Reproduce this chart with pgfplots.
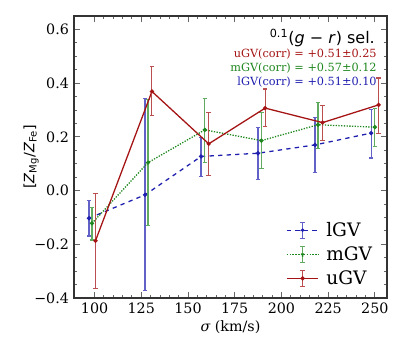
\documentclass[border=0pt]{standalone}
\usepackage{pgfplots}
\pgfplotsset{compat=1.18}
\usepackage{pgfplotstable}
\usepackage{fontspec}
\setmainfont{DejaVu Serif}
\newfontfamily\dvsans{DejaVu Sans}

\definecolor{lgv}{RGB}{30,30,175}
\definecolor{mgv}{RGB}{30,135,30}
\definecolor{ugv}{RGB}{165,20,20}
\colorlet{lgveb}{lgv!70}
\colorlet{mgveb}{mgv!70}
\colorlet{ugveb}{ugv!75}

\pgfplotsset{
    lgvleg/.style={legend image code/.code={
        \draw[lgv,dashed,line width=1pt] (0cm,0cm) -- (0.78cm,0cm);
        \draw[lgveb,solid,line width=0.8pt] (0.39cm,-0.2cm) -- (0.39cm,0.2cm)
            (0.335cm,-0.2cm) -- (0.445cm,-0.2cm) (0.335cm,0.2cm) -- (0.445cm,0.2cm);
        \fill[lgv] (0.39cm,0cm) circle (1pt);
    }},
    mgvleg/.style={legend image code/.code={
        \draw[mgv,densely dotted,line width=1pt] (0cm,0cm) -- (0.78cm,0cm);
        \draw[mgveb,solid,line width=0.8pt] (0.39cm,-0.2cm) -- (0.39cm,0.2cm)
            (0.335cm,-0.2cm) -- (0.445cm,-0.2cm) (0.335cm,0.2cm) -- (0.445cm,0.2cm);
        \fill[mgv] (0.39cm,0cm) circle (1pt);
    }},
    ugvleg/.style={legend image code/.code={
        \draw[ugv,solid,line width=1pt] (0cm,0cm) -- (0.78cm,0cm);
        \draw[ugveb,solid,line width=0.8pt] (0.39cm,-0.2cm) -- (0.39cm,0.2cm)
            (0.335cm,-0.2cm) -- (0.445cm,-0.2cm) (0.335cm,0.2cm) -- (0.445cm,0.2cm);
        \fill[ugv] (0.39cm,0cm) circle (1pt);
    }},
}

\pgfplotstableread{
x y ep em
97 -0.103 0.066 0.066
127 -0.016 0.358 0.356
157 0.127 0.070 0.075
187.5 0.139 0.096 0.099
218 0.170 0.102 0.103
248 0.214 0.089 0.093
}\lgvdata
\pgfplotstableread{
x y ep em
98.6 -0.122 0.060 0.062
128.6 0.104 0.236 0.234
159 0.226 0.118 0.120
189.3 0.186 0.104 0.105
219.6 0.245 0.084 0.087
250 0.236 0.071 0.072
}\mgvdata
\pgfplotstableread{
x y ep em
100.5 -0.187 0.177 0.177
130.7 0.369 0.093 0.091
161.1 0.174 0.118 0.119
191.3 0.307 0.071 0.069
222 0.253 0.064 0.067
252 0.319 0.100 0.105
}\ugvdata

\begin{document}
\begin{tikzpicture}
\useasboundingbox (-51.8pt,-36.4pt) rectangle (234.5pt,208.6pt);
\begin{axis}[
    scale only axis,
    width=219.1pt, height=197.4pt,
    xmin=89, xmax=256.5,
    ymin=-0.4, ymax=0.65,
    xtick={100,125,150,175,200,225,250},
    minor x tick num=4,
    ytick={-0.4,-0.2,0,0.2,0.4,0.6},
    yticklabels={−0.4,−0.2,0.0,0.2,0.4,0.6},
    minor y tick num=3,
    tick align=inside,
    major tick length=4.5pt,
    minor tick length=2.2pt,
    tick style={black!60, line width=0.6pt},
    axis line style={black!80, line width=0.8pt},
    /pgf/number format/assume math mode=true,
    xlabel={{\itshape σ} (km/s)},
    ylabel={{\dvsans[\textit{Z}\textsubscript{Mg}/\textit{Z}\textsubscript{Fe}]}},
    xlabel style={yshift=2pt},
    ylabel style={yshift=-10pt},
    legend cell align=left,
    legend style={at={(0.99,0.02)}, anchor=south east, draw=none, fill=none,
        row sep=1.5pt, font=\fontsize{13}{15.4}\selectfont,
        nodes={inner xsep=5pt}},
]
\addplot[color=lgv, dashed, line width=0.9pt, mark=*, mark size=1pt, mark options={solid},
    error bars/.cd, y dir=both, y explicit,
    error bar style={draw=lgveb, solid, line width=0.8pt},
    error mark options={rotate=90, draw=lgveb, mark size=1.6pt, line width=0.8pt},
    /pgfplots/.cd, lgvleg]
    table[x=x, y=y, y error plus=ep, y error minus=em] {\lgvdata};
\addlegendentry{lGV}
\addplot[color=mgv, densely dotted, line width=0.9pt, mark=*, mark size=1pt, mark options={solid},
    error bars/.cd, y dir=both, y explicit,
    error bar style={draw=mgveb, solid, line width=0.8pt},
    error mark options={rotate=90, draw=mgveb, mark size=1.6pt, line width=0.8pt},
    /pgfplots/.cd, mgvleg]
    table[x=x, y=y, y error plus=ep, y error minus=em] {\mgvdata};
\addlegendentry{mGV}
\addplot[color=ugv, solid, line width=0.9pt, mark=*, mark size=1pt,
    error bars/.cd, y dir=both, y explicit,
    error bar style={draw=ugveb, solid, line width=0.8pt},
    error mark options={rotate=90, draw=ugveb, mark size=1.6pt, line width=0.8pt},
    /pgfplots/.cd, ugvleg]
    table[x=x, y=y, y error plus=ep, y error minus=em] {\ugvdata};
\addlegendentry{uGV}
\node[anchor=east, inner sep=0pt, font=\dvsans\fontsize{11.2}{13}\selectfont]
    at (rel axis cs:0.962,0.922) {\textsuperscript{0.1}(\textit{g} − \textit{r}) sel.};
\node[anchor=east, inner sep=0pt, text=ugv, font=\fontsize{7.9}{9}\selectfont]
    at (rel axis cs:0.968,0.865) {uGV(corr) = +0.51±0.25};
\node[anchor=east, inner sep=0pt, text=mgv, font=\fontsize{7.9}{9}\selectfont]
    at (rel axis cs:0.968,0.816) {mGV(corr) = +0.57±0.12};
\node[anchor=east, inner sep=0pt, text=lgv, font=\fontsize{7.9}{9}\selectfont]
    at (rel axis cs:0.968,0.766) {lGV(corr) = +0.51±0.10};
\end{axis}
\end{tikzpicture}
\end{document}
